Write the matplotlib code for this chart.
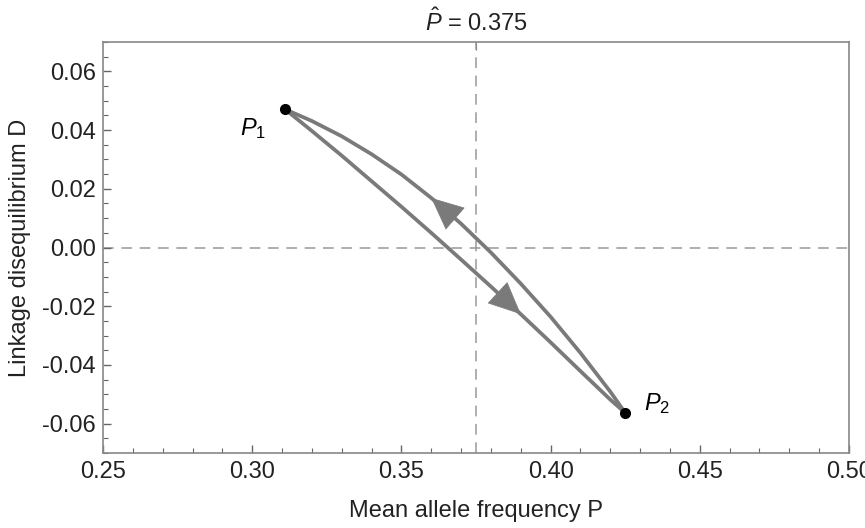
import matplotlib
matplotlib.use("Agg")
import matplotlib.pyplot as plt
from matplotlib.ticker import MultipleLocator

plt.rcParams['font.family'] = ['Liberation Sans', 'DejaVu Sans']
plt.rcParams['mathtext.fontset'] = 'custom'
plt.rcParams['mathtext.rm'] = 'Liberation Sans'
plt.rcParams['mathtext.it'] = 'Liberation Sans:italic'

# P1 -> P2 along the lower branch, back P2 -> P1 along the upper branch
lower_P = [0.311, 0.320, 0.330, 0.340, 0.350, 0.360, 0.370, 0.380, 0.390, 0.400, 0.410, 0.420, 0.425]
lower_D = [0.0471, 0.0397, 0.0313, 0.0226, 0.0139, 0.0050, -0.0041, -0.0133, -0.0227, -0.0323, -0.0421, -0.0518, -0.0563]
upper_P = [0.425, 0.420, 0.410, 0.400, 0.390, 0.380, 0.370, 0.360, 0.350, 0.340, 0.330, 0.320, 0.311]
upper_D = [-0.0563, -0.0491, -0.0359, -0.0236, -0.0123, -0.0017, 0.0081, 0.0169, 0.0249, 0.0318, 0.0379, 0.0431, 0.0471]

point_P = [0.311, 0.425]
point_D = [0.0471, -0.0563]
point_names = [r'$P_1$', r'$P_2$']

P_hat = 0.375
gray = '#7a7a7a'
fs = 17

fig = plt.figure(figsize=(8.65, 5.28), dpi=100)
ax = fig.add_axes([0.1191, 0.142, 0.8624, 0.7784])

ax.axhline(0, color='#999999', lw=1.1, dashes=(7, 5), zorder=1)
ax.axvline(P_hat, color='#999999', lw=1.1, dashes=(7, 5), zorder=1)

ax.plot(lower_P, lower_D, color=gray, lw=2.7, solid_joinstyle='round', solid_capstyle='round', zorder=2)
ax.plot(upper_P, upper_D, color=gray, lw=2.7, solid_joinstyle='round', solid_capstyle='round', zorder=2)

# arrow heads on each branch (tip on a curve point, pointing along the branch)
head = dict(arrowstyle='-|>,head_length=1.1,head_width=0.5', color=gray,
            lw=0.5, shrinkA=0, shrinkB=0, mutation_scale=20)
ax.annotate('', xy=(lower_P[8], lower_D[8]), xytext=(lower_P[7], lower_D[7]), arrowprops=head, zorder=3)
ax.annotate('', xy=(upper_P[7], upper_D[7]), xytext=(upper_P[6], upper_D[6]), arrowprops=head, zorder=3)

ax.plot(point_P, point_D, 'o', color='black', ms=7, zorder=4)
ax.annotate(point_names[0], (point_P[0], point_D[0]), xytext=(-23, -14), textcoords='offset points',
            fontsize=fs, ha='center', va='center')
ax.annotate(point_names[1], (point_P[1], point_D[1]), xytext=(23, 7), textcoords='offset points',
            fontsize=fs, ha='center', va='center')

ax.set_xlim(0.25, 0.50)
ax.set_ylim(-0.07, 0.07)
ax.xaxis.set_major_locator(MultipleLocator(0.05))
ax.xaxis.set_minor_locator(MultipleLocator(0.01))
ax.yaxis.set_major_locator(MultipleLocator(0.02))
ax.yaxis.set_minor_locator(MultipleLocator(0.005))
ax.xaxis.set_major_formatter(lambda v, p: f'{v:.2f}')
ax.yaxis.set_major_formatter(lambda v, p: f'{v:.2f}')
ax.tick_params(which='both', direction='in', top=False, right=False, colors='#666666',
               labelcolor='#222222', labelsize=fs)
ax.tick_params(which='major', length=6, width=1)
ax.tick_params(which='minor', length=3.5, width=0.8)
ax.tick_params(axis='x', pad=6)
ax.tick_params(axis='y', pad=5)
for s in ax.spines.values():
    s.set_color('#888888')
    s.set_linewidth(1.2)

top = ax.secondary_xaxis('top')
top.set_xticks([P_hat])
top.set_xticklabels([r'$\hat{P}$ = 0.375'])
top.tick_params(direction='in', length=6, colors='#666666', labelcolor='#222222', labelsize=fs, pad=4)
top.spines['top'].set_visible(False)

ax.set_xlabel('Mean allele frequency P', fontsize=fs, color='#222222', labelpad=12)
ax.set_ylabel('Linkage disequilibrium D', fontsize=fs, color='#222222', labelpad=8)

fig.savefig('out.png', dpi=100)
